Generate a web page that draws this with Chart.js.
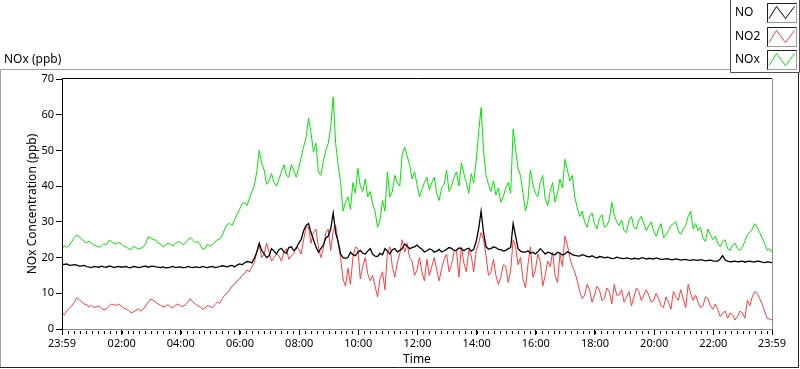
<!DOCTYPE html>
<html>
<head>
<meta charset="utf-8">
<script src="https://cdn.jsdelivr.net/npm/chart.js@4/dist/chart.umd.min.js"></script>
<style>
  html, body { margin: 0; padding: 0; background: #fff; }
  #wrap { width: 800px; height: 369px; position: relative; }
</style>
</head>
<body>
<div id="wrap"><canvas id="noxChart" width="800" height="369"></canvas></div>
<script>
// samples every 5 minutes, minute 0 = 23:59
const sampleStep = 5;
const sampleMinutes = Array.from({ length: 289 }, (_, i) => i * sampleStep);

const noValues = [
  18.0,18.1, 18.2,17.8, 17.9,18.0, 17.9,17.6, 17.7,17.8, 17.5,17.3, 17.2,17.5, 17.4,17.3, 17.6,17.4, 17.3,17.6,
  17.5,17.2, 17.4,17.5, 17.3,17.4, 17.5,17.2, 17.2,17.5, 17.4,17.2, 17.3,17.5, 17.6,17.3, 17.5,17.6, 17.4,17.3,
  17.2,17.4, 17.1,17.2, 17.3,17.5, 17.2,17.3, 17.4,17.2, 17.2,17.5, 17.3,17.2, 17.4,17.3, 17.2,17.5,
  17.3,17.2, 17.4,17.5, 17.2,17.3, 17.5,17.7, 17.6,17.4, 17.7,17.8, 17.4,17.9, 18.2,18.0, 18.5,18.9, 18.8,18.5, 19.8,21.5,
  24.0,22.0, 21.0,20.0, 20.5,22.5, 21.8,21.0, 22.2,22.6, 21.6,21.2, 22.8,23.0, 22.0,22.5, 24.0,25.0, 27.5,29.0,
  29.5,27.0, 25.0,23.0, 21.5,22.5, 23.5,25.5, 26.0,28.0, 32.5,27.0, 24.5,21.0, 20.0,19.8,
  20.0,21.5, 20.8,20.5, 21.5,22.0, 21.2,21.0, 21.8,22.5, 21.0,20.4, 20.3,21.2, 20.8,22.5, 21.8,21.0, 22.2,22.5,
  21.6,22.0, 22.5,23.8, 23.2,22.5, 22.8,23.0, 23.5,22.8, 22.4,21.6, 21.9,22.4, 22.2,21.5, 21.8,22.3, 21.6,21.9,
  22.3,22.8, 22.6,22.0, 22.1,22.7, 22.5,21.9, 22.4,22.6, 21.8,22.3, 24.5,28.0, 33.0,27.0, 23.0,22.4,
  22.5,23.0, 22.8,22.3, 22.2,21.8, 22.0,22.5, 22.8,29.5, 26.0,22.5, 21.8,21.5, 21.5,21.9, 21.2,21.5, 21.0,21.6,
  22.5,21.8, 21.0,21.5, 21.3,20.9, 20.8,21.5, 21.2,20.7, 21.0,21.6, 21.3,20.8, 20.6,20.5, 20.4,20.8, 20.6,20.3,
  20.2,20.5, 20.1,19.9, 20.3,20.2, 19.9,20.1, 20.0,19.7, 19.8,20.1, 19.9,19.8, 19.7,19.9, 19.8,19.6,
  19.8,19.7, 19.6,19.9, 19.9,19.6, 19.8,19.7, 19.6,19.9, 19.7,19.5, 19.5,19.7, 19.6,19.4, 19.4,19.6, 19.5,19.3,
  19.4,19.5, 19.3,19.2, 19.4,19.3, 19.2,19.4, 19.3,19.1, 19.2,19.3, 19.1,19.0, 19.0,19.6, 20.5,19.3, 19.0,18.8,
  18.9,19.0, 18.8,18.9, 19.0,18.7, 18.9,19.0, 18.8,18.8, 19.0,18.9, 18.7,18.6, 18.8,18.7, 18.6
];

const no2Values = [
  4.5,4.0, 5.2,5.8, 6.5,7.5, 8.8,8.2, 7.6,7.0, 6.8,6.2, 6.6,6.0, 6.2,6.5, 5.8,5.4, 5.6,6.3,
  7.0,6.8, 6.6,7.0, 6.4,5.9, 5.6,5.2, 4.6,4.8, 5.2,5.6, 5.0,5.6, 6.5,7.6, 8.4,8.0, 7.5,7.0,
  6.6,6.2, 6.4,6.8, 6.2,6.0, 6.6,7.0, 6.5,6.3, 6.7,7.5, 8.5,7.6, 7.0,6.6, 6.2,5.6,
  5.8,6.6, 6.3,6.0, 6.8,7.5, 7.2,8.5, 9.5,10.0, 11.0,12.0, 12.5,13.5, 14.0,15.0, 15.5,16.5, 16.0,17.5, 18.5,21.5,
  23.5,20.0, 21.0,24.0, 21.5,19.0, 20.0,21.0, 20.5,19.0, 21.5,22.5, 19.5,20.5, 21.0,23.0, 22.5,21.0, 25.0,28.5,
  28.5,24.0, 27.0,28.0, 23.0,20.0, 22.5,27.0, 28.0,22.0, 27.5,29.0, 24.0,20.0, 14.0,12.0,
  17.0,12.5, 20.0,23.0, 22.5,14.0, 17.5,20.0, 15.5,13.5, 15.0,12.0, 9.0,14.0, 16.0,11.0, 21.5,23.0, 17.5,14.5,
  18.5,21.0, 25.0,21.5, 24.0,20.0, 19.0,15.0, 16.5,20.0, 16.0,13.5, 19.5,15.0, 17.5,20.0, 16.5,13.5, 17.0,19.5,
  21.0,16.0, 18.0,21.5, 22.0,14.5, 23.0,18.5, 16.0,22.0, 20.5,16.0, 22.0,24.0, 27.0,25.0, 20.5,15.0,
  16.0,19.5, 15.0,12.5, 14.5,18.0, 17.5,13.0, 16.5,25.0, 23.0,18.0, 20.0,14.0, 11.5,18.0, 23.0,14.5, 16.5,21.0,
  19.0,12.0, 15.0,19.0, 17.5,21.5, 15.0,13.0, 21.0,17.5, 26.0,23.5, 20.0,17.5, 16.0,13.5, 10.5,8.5, 9.5,12.5,
  11.0,7.5, 9.5,12.0, 11.0,8.0, 8.5,11.5, 10.5,7.0, 12.5,9.5, 9.5,11.0, 7.5,9.0, 10.5,6.5,
  9.0,11.5, 10.5,8.0, 9.5,11.0, 9.5,7.5, 8.0,10.0, 8.5,6.5, 6.0,9.0, 7.5,5.5, 10.5,9.0, 8.0,11.0,
  8.5,6.0, 12.5,10.0, 8.0,9.5, 7.5,6.0, 6.5,9.0, 8.5,6.5, 5.5,7.0, 5.5,3.5, 4.5,5.0, 3.0,4.5,
  4.0,2.5, 3.5,5.0, 4.5,3.0, 8.0,6.5, 9.0,10.5, 10.0,8.5, 7.0,5.0, 3.0,2.8, 2.5
];

const noxValues = [
  22.5,23.3, 22.8,23.5, 24.5,25.6, 26.3,25.8, 25.2,24.4, 24.2,24.6, 24.0,23.5, 23.2,22.9, 23.3,23.9, 23.6,24.8,
  24.5,24.0, 23.8,24.3, 23.8,23.2, 23.0,22.5, 22.2,23.1, 22.8,22.4, 22.6,23.0, 24.0,25.8, 25.5,25.1, 24.9,24.1,
  23.8,23.0, 23.4,24.0, 23.7,23.3, 23.8,24.5, 24.2,23.6, 24.0,24.8, 25.6,24.9, 24.2,24.5, 23.6,22.4,
  22.5,23.8, 23.2,23.6, 24.3,25.0, 25.2,26.2, 28.0,29.3, 29.5,29.0, 30.6,32.0, 33.5,35.0, 35.5,34.5, 36.5,38.5, 40.0,44.0,
  50.0,46.5, 44.5,40.5, 41.5,43.5, 41.0,40.0, 42.0,44.0, 46.0,43.0, 42.5,46.0, 44.5,42.5, 45.0,48.0, 51.0,53.5,
  59.0,55.0, 49.5,52.0, 44.0,43.0, 47.0,50.0, 52.0,56.5, 65.0,52.0, 46.0,41.0, 33.0,35.5,
  37.0,33.5, 41.0,38.0, 45.0,40.0, 38.5,42.0, 37.0,38.5, 35.0,33.0, 28.5,30.5, 36.0,33.0, 44.0,37.0, 38.5,43.0,
  41.0,40.0, 49.0,51.0, 48.5,46.0, 42.0,44.0, 40.5,37.0, 39.0,41.0, 42.5,39.0, 41.0,42.5, 38.0,36.0, 39.5,40.5,
  44.5,38.5, 40.0,42.5, 44.0,40.0, 46.5,43.5, 41.0,38.0, 43.5,41.0, 47.0,55.0, 62.0,50.0, 43.0,40.5,
  38.5,41.5, 37.5,39.5, 35.5,37.0, 39.5,41.0, 38.0,56.0, 50.0,45.0, 43.0,38.0, 33.0,36.0, 44.5,40.5, 38.0,37.0,
  41.0,43.0, 36.5,34.5, 38.5,41.0, 35.5,38.0, 42.0,39.5, 47.5,44.5, 41.5,43.0, 37.0,34.0, 31.5,33.0, 30.0,28.5,
  31.5,32.5, 29.5,28.0, 31.0,32.0, 28.5,29.0, 30.5,35.5, 32.0,30.0, 29.0,30.5, 27.5,27.0, 30.5,31.5,
  28.5,28.0, 30.5,31.5, 29.5,27.5, 29.0,30.0, 27.5,26.0, 28.0,29.5, 25.5,26.5, 27.5,29.0, 29.5,30.0, 27.5,26.5,
  28.0,29.0, 31.5,33.0, 28.0,29.5, 27.5,28.5, 25.5,24.5, 28.0,26.5, 25.0,26.0, 24.0,23.0, 24.5,25.0, 22.5,22.0,
  23.5,24.0, 22.5,22.0, 23.0,24.5, 26.5,27.0, 28.0,29.5, 28.5,27.0, 25.5,24.0, 22.0,22.5, 21.5
];

// major time ticks (minutes after 23:59)
const timeTicks = [0, 121, 241, 361, 481, 601, 721, 841, 961, 1081, 1201, 1321, 1440];
const seriesNames = ['NO', 'NO2', 'NOx'];
const seriesColors = ['#000000', '#ff3c3c', '#00e600'];

const FONT = '"Noto Sans", sans-serif';

function clockLabel(v) {
    const m = (v + 1439) % 1440;
    const h = Math.floor(m / 60);
    const mm = m % 60;
    return String(h).padStart(2, '0') + ':' + String(mm).padStart(2, '0');
}

// frames, minor ticks, legend and panel caption
const panelDecor = {
    id: 'panelDecor',
    beforeDraw(chart) {
        const ctx = chart.ctx;
        ctx.save();
        ctx.fillStyle = '#fff';
        ctx.fillRect(0, 0, chart.width, chart.height);
        ctx.restore();
    },
    afterDraw(chart) {
        const ctx = chart.ctx;
        const a = chart.chartArea;
        const xs = chart.scales.x;
        ctx.save();
        ctx.lineWidth = 1;

        // outer panel frame
        ctx.strokeStyle = '#a0a0a0';
        ctx.beginPath();
        ctx.moveTo(0.5, 367.5); ctx.lineTo(0.5, 69.5); ctx.lineTo(731, 69.5);
        ctx.stroke();
        ctx.strokeStyle = '#202020';
        ctx.beginPath();
        ctx.moveTo(0, 367.5); ctx.lineTo(798.5, 367.5); ctx.lineTo(798.5, 72);
        ctx.stroke();

        // plot border: black top/left, gray bottom/right
        ctx.strokeStyle = '#000';
        ctx.beginPath();
        ctx.moveTo(a.left + 0.5, a.bottom); ctx.lineTo(a.left + 0.5, a.top - 0.5); ctx.lineTo(a.right, a.top - 0.5);
        ctx.stroke();
        ctx.strokeStyle = '#8c8c8c';
        ctx.beginPath();
        ctx.moveTo(a.left + 1, a.bottom + 0.5); ctx.lineTo(a.right + 0.5, a.bottom + 0.5); ctx.lineTo(a.right + 0.5, a.top);
        ctx.stroke();

        // minor ticks on the time axis
        ctx.strokeStyle = '#000';
        ctx.beginPath();
        for (let m = 1; m < 1440; m += 12) {
            const px = Math.round(xs.getPixelForValue(m)) + 0.5;
            ctx.moveTo(px, a.bottom + 2);
            ctx.lineTo(px, a.bottom + 5);
        }
        ctx.stroke();

        // caption
        ctx.fillStyle = '#000';
        ctx.font = '12px ' + FONT;
        ctx.textBaseline = 'middle';
        ctx.textAlign = 'left';
        ctx.fillText('NOx (ppb)', 4, 60);

        // legend box
        ctx.fillStyle = '#fff';
        ctx.fillRect(731, 0, 68, 72);
        ctx.strokeStyle = '#505050';
        ctx.beginPath();
        ctx.moveTo(730.5, 0); ctx.lineTo(730.5, 72.5); ctx.lineTo(799.5, 72.5); ctx.lineTo(799.5, 0);
        ctx.stroke();

        const rowsY = [3, 27, 50];
        seriesNames.forEach((name, i) => {
            const top = rowsY[i];
            ctx.fillStyle = '#000';
            ctx.font = '12px ' + FONT;
            ctx.fillText(name, 735, top + 10);
            // icon frame
            ctx.strokeStyle = '#9a9a9a';
            ctx.strokeRect(767.5, top + 0.5, 29, 19);
            ctx.strokeStyle = '#202020';
            ctx.beginPath();
            ctx.moveTo(767.5, top + 19.5); ctx.lineTo(767.5, top + 0.5); ctx.lineTo(796.5, top + 0.5);
            ctx.stroke();
            // zig-zag sample
            ctx.strokeStyle = seriesColors[i];
            ctx.beginPath();
            ctx.moveTo(769, top + 15.5);
            ctx.lineTo(776.5, top + 3.5);
            ctx.lineTo(785.5, top + 15.5);
            ctx.lineTo(794.5, top + 3.5);
            ctx.stroke();
        });
        ctx.restore();
    }
};

const ctx = document.getElementById('noxChart').getContext('2d');
const noxChart = new Chart(ctx, {
    type: 'line',
    data: {
        labels: sampleMinutes,
        datasets: [
            { label: 'NO', data: noValues, borderColor: seriesColors[0], borderWidth: 1.3, order: 0 },
            { label: 'NO2', data: no2Values, borderColor: seriesColors[1], borderWidth: 1, order: 2 },
            { label: 'NOx', data: noxValues, borderColor: seriesColors[2], borderWidth: 1, order: 1 }
        ]
    },
    options: {
        responsive: false,
        animation: false,
        events: [],
        layout: {
            autoPadding: false,
            padding: { left: 0, right: 28, top: 79, bottom: 0 }
        },
        elements: {
            point: { radius: 0 },
            line: { tension: 0, fill: false }
        },
        plugins: {
            legend: { display: false },
            tooltip: { enabled: false }
        },
        scales: {
            x: {
                type: 'linear',
                min: 0,
                max: 1440,
                afterFit(scale) { scale.height = 40; },
                afterBuildTicks(scale) {
                    scale.ticks = timeTicks.map(v => ({ value: v }));
                },
                border: { display: false },
                grid: {
                    drawOnChartArea: false,
                    drawTicks: true,
                    tickLength: 6,
                    color: '#000'
                },
                ticks: {
                    autoSkip: false,
                    maxRotation: 0,
                    padding: 2,
                    color: '#000',
                    font: { family: FONT, size: 11 },
                    callback: v => clockLabel(v)
                },
                title: {
                    display: true,
                    text: 'Time',
                    color: '#000',
                    font: { family: FONT, size: 12 },
                    padding: { top: 0, bottom: 2 }
                }
            },
            y: {
                min: 0,
                max: 70,
                afterFit(scale) { scale.width = 62; },
                border: { display: false },
                grid: {
                    drawOnChartArea: false,
                    drawTicks: true,
                    tickLength: 6,
                    color: '#000'
                },
                ticks: {
                    stepSize: 10,
                    padding: 2,
                    color: '#000',
                    font: { family: FONT, size: 11 }
                },
                title: {
                    display: true,
                    text: 'NOx Concentration (ppb)',
                    color: '#000',
                    font: { family: FONT, size: 12 },
                    padding: { top: 25, bottom: 0 }
                }
            }
        }
    },
    plugins: [panelDecor]
});
</script>
</body>
</html>
